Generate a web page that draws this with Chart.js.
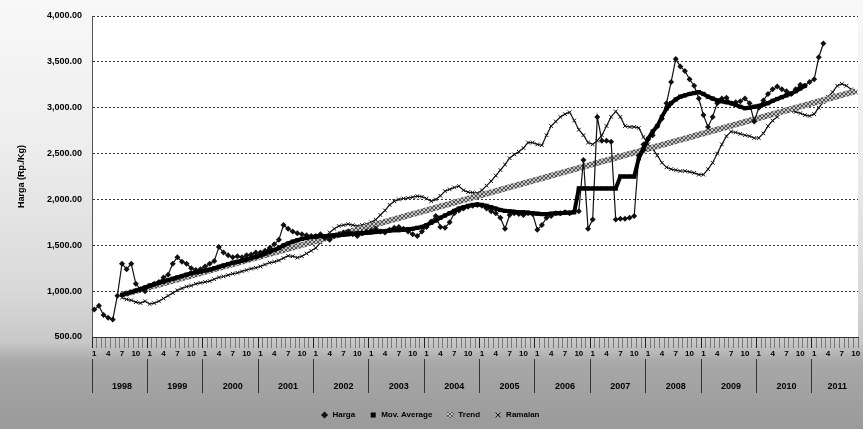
<!DOCTYPE html>
<html>
<head>
<meta charset="utf-8">
<script src="https://cdn.jsdelivr.net/npm/chart.js@4.4.0/dist/chart.umd.min.js"></script>
<style>
html, body { margin: 0; padding: 0; }
body {
  width: 863px; height: 429px; overflow: hidden;
  background: linear-gradient(to bottom, #f8f8f8 0px, #eeeeee 140px, #d9d9d9 290px, #c8c8c8 342px, #a8a8a8 362px, #9a9a9a 429px);
}
</style>
</head>
<body>
<canvas id="myChart" width="863" height="429"></canvas>
<script>
// years on the axis, 2011 only goes to october
var years = ['1998','1999','2000','2001','2002','2003','2004','2005','2006','2007','2008','2009','2010','2011'];
var monthsInYear = [12,12,12,12,12,12,12,12,12,12,12,12,12,10];
var shownMonths = ['1','4','7','10'];

// harga jan 1998 .. mar 2011
var harga = [
  800, 840, 740, 710, 690, 950, 1300, 1240, 1300, 1080, 1020, 1000,
  1060, 1080, 1100, 1150, 1180, 1300, 1370, 1320, 1300, 1250, 1230, 1240,
  1270, 1300, 1330, 1480, 1420, 1390, 1370, 1380, 1370, 1390, 1400, 1420,
  1420, 1440, 1470, 1510, 1560, 1720, 1680, 1650, 1630, 1620, 1610, 1600,
  1600, 1620, 1580, 1560, 1600, 1620, 1640, 1650, 1620, 1600, 1630, 1650,
  1660, 1680, 1650, 1640, 1670, 1690, 1700, 1680, 1650, 1620, 1600, 1650,
  1700, 1760, 1820, 1700, 1690, 1750, 1850, 1880, 1900, 1920, 1930, 1940,
  1930, 1900, 1870, 1850, 1800, 1680, 1830, 1850, 1840, 1830, 1850, 1840,
  1670, 1720, 1800, 1820, 1850, 1850, 1860, 1850, 1870, 1870, 2430, 1680,
  1780, 2900, 2640, 2640, 2630, 1780, 1790, 1790, 1800, 1820, 2480, 2600,
  2660, 2700, 2800, 2880, 3050, 3280, 3530, 3450, 3400, 3310, 3240, 3100,
  2920, 2790, 2900, 3050, 3100, 3110, 3050, 3060, 3070, 3100, 3050, 2850,
  3000, 3080, 3150, 3200, 3230, 3200, 3180, 3150, 3200, 3250, 3240, 3280,
  3310, 3550, 3700
];

// moving average jul 1998 .. nov 2010
var movAvgStart = 6;
var movAvg = [
  960, 975, 990, 1005, 1020, 1040,
  1060, 1075, 1090, 1105, 1120, 1135, 1150, 1165, 1180, 1195, 1205, 1215,
  1225, 1235, 1250, 1265, 1280, 1295, 1310, 1320, 1330, 1345, 1360, 1375,
  1390, 1410, 1430, 1450, 1470, 1500, 1520, 1540, 1555, 1570, 1580, 1590,
  1595, 1600, 1600, 1605, 1610, 1610, 1615, 1620, 1625, 1630, 1630, 1635,
  1640, 1645, 1650, 1655, 1660, 1665, 1665, 1670, 1675, 1680, 1690, 1700,
  1720, 1745, 1770, 1800, 1825, 1850, 1875, 1900, 1915, 1930, 1940, 1945,
  1940, 1930, 1915, 1900, 1885, 1875, 1870, 1865, 1860, 1860, 1855, 1850,
  1845, 1840, 1840, 1845, 1850, 1850, 1855, 1855, 1860, 2120, 2120, 2120,
  2120, 2120, 2120, 2120, 2120, 2120, 2250, 2250, 2250, 2250, 2450, 2550,
  2660, 2740, 2800, 2900, 2990, 3050, 3090, 3120, 3135, 3150, 3160, 3170,
  3150, 3120, 3100, 3080, 3070, 3060, 3050, 3030, 3010, 2995, 3000, 3010,
  3020, 3035, 3050, 3075, 3095, 3115, 3135, 3155, 3180, 3210, 3240
];

// straight trend line, only the two ends
var trendStart = 6;
var trendEnds = [960, 3180];

// ramalan jul 1998 .. oct 2011
var ramalanStart = 6;
var ramalan = [
  930, 910, 900, 880, 870, 890,
  860, 870, 890, 920, 950, 980, 1010, 1030, 1050, 1060, 1080, 1090,
  1100, 1110, 1130, 1150, 1160, 1175, 1190, 1200, 1215, 1230, 1245, 1255,
  1270, 1290, 1310, 1320, 1335, 1360, 1385, 1380, 1365, 1380, 1410, 1440,
  1470, 1530, 1590, 1640, 1680, 1710, 1720, 1730, 1720, 1710, 1720, 1730,
  1750, 1780, 1830, 1880, 1940, 1980, 2000, 2010, 2015, 2025, 2035, 2030,
  2010, 1980, 2000, 2040, 2090, 2110, 2130, 2145, 2100, 2080, 2075, 2068,
  2100, 2150, 2200, 2260, 2320, 2380, 2450, 2490, 2520, 2560, 2620, 2620,
  2600, 2590, 2700, 2800, 2850, 2900, 2930, 2950, 2860, 2760, 2700, 2620,
  2600, 2640, 2700, 2800, 2900, 2960, 2900, 2800, 2790, 2790, 2780, 2680,
  2600, 2550, 2480, 2400, 2350, 2330, 2320, 2310, 2310, 2300, 2290, 2270,
  2270, 2330, 2400, 2500, 2600, 2690, 2740, 2730, 2715, 2700, 2690, 2670,
  2670, 2720, 2800, 2860, 2900, 2950, 2970, 2965, 2955, 2940, 2920, 2910,
  2930, 3000, 3060, 3120, 3170, 3240, 3260, 3240, 3200, 3170
];

// build month labels + where each year label sits
var labels = [];
var yearAt = {};
for (var y = 0; y < years.length; y++) {
  yearAt[labels.length + Math.floor(monthsInYear[y] / 2)] = years[y];
  for (var mo = 1; mo <= monthsInYear[y]; mo++) labels.push(String(mo));
}
var total = labels.length;

function pad(start, vals) { // puts nulls before/after so it lines up with labels
  var out = [];
  for (var i = 0; i < total; i++) out.push(null);
  for (var j = 0; j < vals.length; j++) out[start + j] = vals[j];
  return out;
}
var trendData = pad(0, []);
trendData[trendStart] = trendEnds[0];
trendData[total - 1] = trendEnds[1];

function hatch() { // grey crosshatch look of the trend line
  var c = document.createElement('canvas');
  c.width = 4; c.height = 4;
  var g = c.getContext('2d');
  g.fillStyle = '#c4c4c4'; g.fillRect(0, 0, 4, 4);
  g.fillStyle = '#555';
  for (var i = 0; i < 4; i++) { g.fillRect(i, 3 - i, 1, 1); g.fillRect(i, i, 1, 1); }
  return g.createPattern(c, 'repeat');
}

var bold = function (s) { return { family: 'Liberation Sans', weight: 'bold', size: s }; };

var plotBg = {
  id: 'plotBg',
  beforeDraw: function (chart) {
    var a = chart.chartArea, ctx = chart.ctx;
    ctx.save();
    ctx.fillStyle = '#ffffff';
    ctx.fillRect(a.left, a.top, a.right - a.left, a.bottom - a.top);
    ctx.restore();
  }
};

var ctx = document.getElementById('myChart').getContext('2d');
var chart = new Chart(ctx, {
  type: 'line',
  data: {
    labels: labels,
    datasets: [
      {
        label: 'Harga', data: pad(0, harga), order: 2,
        borderColor: '#111', backgroundColor: '#111', borderWidth: 1.2,
        pointStyle: 'rectRot', pointRadius: 3, pointBorderWidth: 0
      },
      {
        label: 'Mov. Average', data: pad(movAvgStart, movAvg), order: 1,
        borderColor: '#000', backgroundColor: '#000', borderWidth: 4,
        pointStyle: 'rect', pointRadius: 3, pointBorderWidth: 0
      },
      {
        label: 'Trend', data: trendData, order: 3, spanGaps: true,
        borderColor: hatch(), backgroundColor: '#999', borderWidth: 6,
        pointStyle: 'line', pointRadius: 0
      },
      {
        label: 'Ramalan', data: pad(ramalanStart, ramalan), order: 4,
        borderColor: '#111', backgroundColor: '#111', borderWidth: 1.2,
        pointStyle: 'crossRot', pointRadius: 2.6, pointBorderWidth: 1
      }
    ]
  },
  options: {
    responsive: false,
    animation: false,
    devicePixelRatio: 1,
    layout: { padding: { left: 0, top: 16, right: 3, bottom: 0 } },
    plugins: {
      tooltip: { enabled: false },
      legend: {
        position: 'bottom',
        labels: {
          color: '#000', font: bold(8), usePointStyle: true, boxWidth: 8, boxHeight: 5, padding: 14,
          sort: function (a, b) { return a.datasetIndex - b.datasetIndex; }
        }
      }
    },
    scales: {
      y: {
        min: 500, max: 4000,
        afterFit: function (s) { s.width = 92; },
        ticks: {
          stepSize: 500, color: '#000', font: bold(9), padding: 10,
          callback: function (v) { return v.toLocaleString('en-US', { minimumFractionDigits: 2, maximumFractionDigits: 2 }); }
        },
        grid: { color: '#333', lineWidth: 1, drawTicks: false },
        border: { color: '#555', dash: [2, 2] },
        title: { display: true, text: 'Harga (Rp./Kg)', color: '#000', font: bold(9), padding: { top: 16, bottom: 2 } }
      },
      x: {
        type: 'category', offset: true,
        afterFit: function (s) { s.height = 22; },
        ticks: {
          autoSkip: false, maxRotation: 0, minRotation: 0, padding: 1, color: '#000', font: bold(8),
          callback: function (v) { var l = this.getLabelForValue(v); return shownMonths.indexOf(l) >= 0 ? l : ''; }
        },
        grid: {
          offset: true, drawOnChartArea: false, tickLength: 11,
          color: function (c) { return c.index % 12 === 0 ? '#222' : '#777'; }
        },
        border: { color: '#333' }
      },
      x2: {
        type: 'category', labels: labels, offset: true, position: 'bottom',
        afterFit: function (s) { s.height = 38; },
        ticks: {
          autoSkip: false, maxRotation: 0, minRotation: 0, padding: -12, color: '#000', font: bold(9),
          callback: function (v, i) { return yearAt[i] || ''; }
        },
        grid: {
          offset: true, drawOnChartArea: false, tickLength: 34,
          color: function (c) { return c.index % 12 === 0 ? '#333' : 'rgba(0,0,0,0)'; }
        },
        border: { display: false }
      }
    }
  },
  plugins: [plotBg]
});
</script>
</body>
</html>
